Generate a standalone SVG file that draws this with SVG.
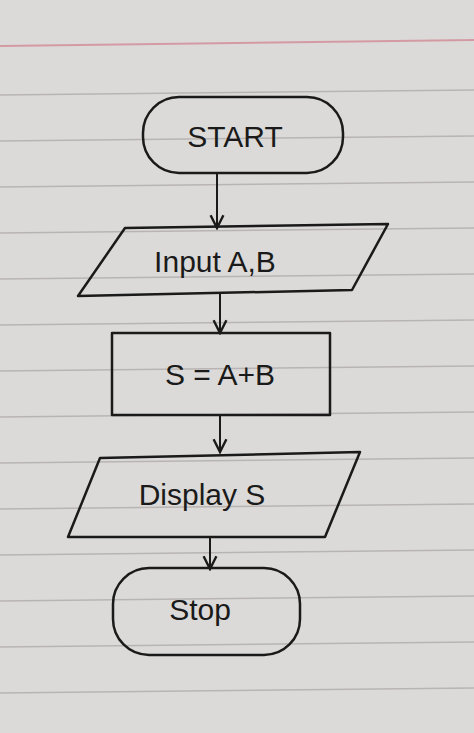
<svg xmlns="http://www.w3.org/2000/svg" width="474" height="733" viewBox="0 0 474 733">
<style>
.n{fill:none;stroke:#1a1a1a;stroke-width:2.5;stroke-linejoin:round}
.t{font-family:"Liberation Sans",Arial,sans-serif;font-size:30px;fill:#1a1a1a;text-anchor:middle}
.c{stroke:#1a1a1a;stroke-width:2;fill:none}
.r{stroke:#b8b4b3;stroke-width:1.5}
</style>
<defs>
<marker id="a" viewBox="0 0 10 10" refX="9" refY="5" markerWidth="8" markerHeight="8" orient="auto"><path d="M1,1 L9,5 L1,9" fill="none" stroke="#1a1a1a" stroke-width="1.5"/></marker>
</defs>
<rect width="474" height="733" fill="#dcdad8"/>
<g id="paper">
<line x1="0" y1="46" x2="474" y2="40" stroke="#d49aa4" stroke-width="2"/>
<line class="r" x1="0" y1="95" x2="474" y2="90"/>
<line class="r" x1="0" y1="141" x2="474" y2="136"/>
<line class="r" x1="0" y1="187" x2="474" y2="182"/>
<line class="r" x1="0" y1="233" x2="474" y2="228"/>
<line class="r" x1="0" y1="279" x2="474" y2="274"/>
<line class="r" x1="0" y1="325" x2="474" y2="320"/>
<line class="r" x1="0" y1="371" x2="474" y2="366"/>
<line class="r" x1="0" y1="417" x2="474" y2="412"/>
<line class="r" x1="0" y1="463" x2="474" y2="458"/>
<line class="r" x1="0" y1="509" x2="474" y2="504"/>
<line class="r" x1="0" y1="555" x2="474" y2="550"/>
<line class="r" x1="0" y1="601" x2="474" y2="596"/>
<line class="r" x1="0" y1="647" x2="474" y2="642"/>
<line class="r" x1="0" y1="693" x2="474" y2="688"/>
</g>
<g id="connectors">
<line class="c" x1="217" y1="173" x2="217" y2="228" marker-end="url(#a)"/>
<line class="c" x1="220" y1="292" x2="220" y2="333" marker-end="url(#a)"/>
<line class="c" x1="220" y1="415" x2="220" y2="452" marker-end="url(#a)"/>
<line class="c" x1="210" y1="537" x2="210" y2="569" marker-end="url(#a)"/>
</g>
<g id="start"><rect class="n" x="143" y="97" width="200" height="76" rx="36"/><text class="t" x="235" y="147">START</text></g>
<g id="input"><path class="n" d="M125,228 L388,224 L352,290 L78,296 Z"/><text class="t" x="215" y="272">Input A,B</text></g>
<g id="process"><rect class="n" x="112" y="333" width="218" height="82"/><text class="t" x="220" y="385">S = A+B</text></g>
<g id="display"><path class="n" d="M100,458 L360,452 L325,537 L68,537 Z"/><text class="t" x="202" y="505">Display S</text></g>
<g id="stop"><rect class="n" x="113" y="568" width="187" height="87" rx="36"/><text class="t" x="200" y="620">Stop</text></g>
</svg>
